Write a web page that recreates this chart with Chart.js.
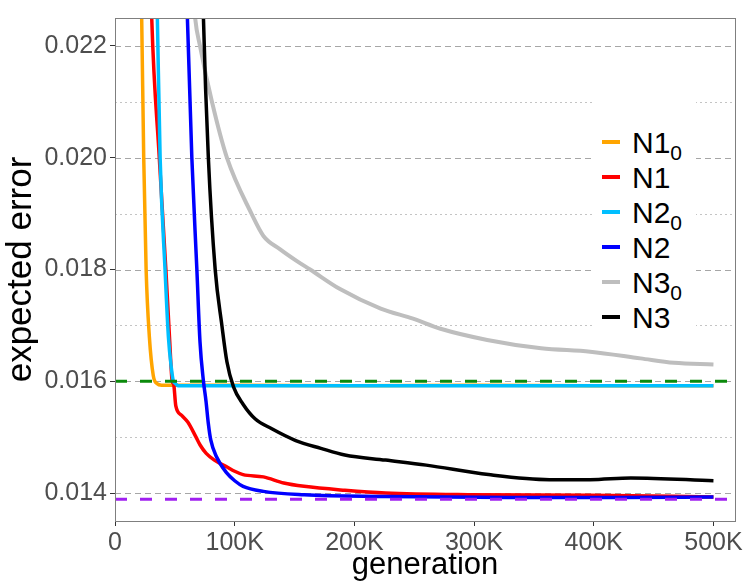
<!DOCTYPE html>
<html lang="en">
<head>
<meta charset="UTF-8">
<title>Expected error vs generation</title>
<script src="https://cdn.jsdelivr.net/npm/chart.js"></script>
<style>
  body { margin: 0; background: #fff; font-family: "Liberation Sans", Arial, sans-serif; }
  #wrap { position: relative; width: 745px; height: 586px; }
  #legend { position: absolute; left: 592px; top: 92px; width: 104px; height: 246px; background: #fff; }
  .item { position: absolute; left: 0; width: 104px; height: 35px; line-height: 35px; font-size: 30px; color: #000; }
  .key { position: absolute; left: 10px; top: 15px; width: 18px; height: 4px; }
  .lab { position: absolute; left: 40px; top: 0; white-space: nowrap; }
  .lab sub { font-size: 21px; vertical-align: -7px; line-height: 0; }
</style>
</head>
<body>
<div id="wrap">
  <canvas id="chart" width="745" height="586"></canvas>
  <div id="legend"></div>
</div>
<script>
// series (generation, expected error)
const n10Gen = [20000, 22300, 24000, 26000, 28700, 32000, 35000, 39000, 60000, 100000, 200000, 300000, 400000, 500000];
const n10Err = [0.0250, 0.02249, 0.0200, 0.0180, 0.0168, 0.0161, 0.01596, 0.01593, 0.01593, 0.01593, 0.01592, 0.01593, 0.01592, 0.01592];

const n1Gen = [28000, 30700, 37000, 42500, 45500, 47800, 49000, 50800, 55700, 60800, 67700, 71100, 76200, 83000, 93300, 100000, 107000, 124000, 141000, 158000, 192000, 226000, 295000, 397000, 500000];
const n1Err = [0.0250, 0.02249, 0.0200, 0.0180, 0.0168, 0.0160, 0.01595, 0.01556, 0.01539, 0.01527, 0.01500, 0.01486, 0.01471, 0.01459, 0.01447, 0.01439, 0.01433, 0.01429, 0.01418, 0.01412, 0.01405, 0.01400, 0.01397, 0.01396, 0.01393];

const n20Gen = [33000, 35400, 37700, 41800, 44600, 47000, 48800, 50500, 53000, 100000, 200000, 300000, 400000, 500000];
const n20Err = [0.0250, 0.02249, 0.0200, 0.0180, 0.0168, 0.01625, 0.0160, 0.01596, 0.01592, 0.01592, 0.01592, 0.01592, 0.01592, 0.01592];

const n2Gen = [58000, 60500, 64200, 68400, 71000, 73900, 76000, 78000, 80000, 84800, 93300, 100000, 107000, 124000, 158000, 226000, 329000, 420000, 500000];
const n2Err = [0.0250, 0.02249, 0.0200, 0.0180, 0.01671, 0.0160, 0.01565, 0.01524, 0.01495, 0.01465, 0.01436, 0.01422, 0.01412, 0.01403, 0.01397, 0.01394, 0.01392, 0.01392, 0.01393];

const n30Gen = [62000, 67000, 71000, 81000, 93500, 114000, 124000, 138000, 152000, 163000, 188000, 222000, 249000, 272000, 311000, 356000, 397000, 439000, 467000, 500000];
const n30Err = [0.0240, 0.02249, 0.0220, 0.0210, 0.0200, 0.0190, 0.0186, 0.01836, 0.01815, 0.0180, 0.01765, 0.0173, 0.01712, 0.01694, 0.01674, 0.01659, 0.01653, 0.01641, 0.01633, 0.0163];

const n3Gen = [71500, 73900, 78000, 83700, 89300, 93500, 99000, 107000, 117000, 131000, 151000, 172000, 192000, 226000, 260000, 312000, 363000, 397000, 431000, 500000];
const n3Err = [0.0250, 0.02249, 0.0200, 0.0180, 0.0170, 0.01635, 0.01590, 0.01559, 0.01533, 0.01515, 0.01494, 0.0148, 0.01468, 0.01459, 0.0145, 0.01433, 0.01424, 0.01424, 0.01427, 0.01422];

const seriesBase = ['N1', 'N1', 'N2', 'N2', 'N3', 'N3'];
const seriesSub = ['0', '', '0', '', '0', ''];
const refLevels = [0.016, 0.01389];

const xTicks = [0, 100000, 200000, 300000, 400000, 500000];
const yTicks = [0.014, 0.016, 0.018, 0.020, 0.022];
const yMinor = [0.015, 0.017, 0.019, 0.021];
const xMax = 518000;

const gens = [n10Gen, n1Gen, n20Gen, n2Gen, n30Gen, n3Gen];
const errs = [n10Err, n1Err, n20Err, n2Err, n30Err, n3Err];
const colors = ['#FFA500', '#FF0000', '#00BFFF', '#0000FF', '#BEBEBE', '#000000'];
const refColors = ['#0b8a0b', '#a020f0'];
const family = '"Liberation Sans", Arial, sans-serif';

const datasets = gens.map((g, i) => ({
  label: seriesBase[i] + (seriesSub[i] ? '\u2080' : ''),
  data: g.map((x, j) => ({ x: x, y: errs[i][j] })),
  borderColor: colors[i],
  borderWidth: i === 4 ? 4 : 3.5,
  pointRadius: 0,
  fill: false,
  cubicInterpolationMode: 'monotone',
  order: 10 - i
}));
refLevels.forEach((v, i) => {
  datasets.push({
    label: 'ref' + i,
    data: [{ x: 0, y: v }, { x: xMax, y: v }],
    borderColor: refColors[i],
    borderWidth: 3,
    borderDash: [12, 13],
    pointRadius: 0,
    order: 0
  });
});

const panel = {
  id: 'panel',
  beforeDatasetsDraw(chart) {
    const { ctx, chartArea: a, scales: { y } } = chart;
    ctx.save();
    ctx.lineWidth = 1;
    ctx.strokeStyle = '#c4c4c4';
    ctx.setLineDash([2, 3]);
    yMinor.forEach(v => {
      const py = Math.round(y.getPixelForValue(v)) + 0.5;
      ctx.beginPath(); ctx.moveTo(a.left, py); ctx.lineTo(a.right, py); ctx.stroke();
    });
    ctx.strokeStyle = '#a6a6a6';
    ctx.setLineDash([6, 4]);
    yTicks.forEach(v => {
      const py = Math.round(y.getPixelForValue(v)) + 0.5;
      ctx.beginPath(); ctx.moveTo(a.left, py); ctx.lineTo(a.right, py); ctx.stroke();
    });
    ctx.restore();
  },
  afterDatasetsDraw(chart) {
    const { ctx, chartArea: a } = chart;
    ctx.save();
    ctx.strokeStyle = '#7f7f7f';
    ctx.lineWidth = 1;
    ctx.strokeRect(Math.round(a.left) + 0.5, Math.round(a.top) + 0.5, Math.round(a.right - a.left), Math.round(a.bottom - a.top));
    ctx.restore();
  }
};

const chart = new Chart(document.getElementById('chart'), {
  type: 'line',
  data: { datasets: datasets },
  options: {
    responsive: false,
    animation: false,
    layout: { padding: { top: 12, right: 10, left: 0, bottom: 0 } },
    plugins: { legend: { display: false }, tooltip: { enabled: false } },
    scales: {
      x: {
        type: 'linear', min: 0, max: xMax,
        afterBuildTicks: s => { s.ticks = xTicks.map(v => ({ value: v })); },
        afterFit: s => { s.height = 65; },
        border: { display: false },
        grid: { drawOnChartArea: false, tickLength: 5, tickColor: '#333', tickWidth: 1 },
        ticks: {
          color: '#4d4d4d', font: { size: 25, family: family }, padding: 2,
          maxRotation: 0, autoSkip: false,
          callback: v => v === 0 ? '0' : (v / 1000) + 'K'
        },
        title: { display: true, text: 'generation', color: '#000', font: { size: 31, family: family }, padding: { top: 0, bottom: 2 } }
      },
      y: {
        type: 'linear', min: 0.0135, max: 0.0225,
        afterBuildTicks: s => { s.ticks = yTicks.map(v => ({ value: v })); },
        afterFit: s => { s.width = 115; },
        border: { display: false },
        grid: { drawOnChartArea: false, tickLength: 5, tickColor: '#333', tickWidth: 1 },
        ticks: {
          color: '#4d4d4d', font: { size: 25, family: family }, padding: 3,
          callback: v => v.toFixed(3)
        },
        title: { display: true, text: 'expected error', color: '#000', font: { size: 35, family: family }, padding: { top: 0, bottom: 0 } }
      }
    }
  },
  plugins: [panel]
});

// legend built from the datasets
const legend = document.getElementById('legend');
seriesBase.forEach((name, i) => {
  const item = document.createElement('div');
  item.className = 'item';
  item.style.top = (32.5 + 35 * i) + 'px';
  const key = document.createElement('div');
  key.className = 'key';
  key.style.background = chart.data.datasets[i].borderColor;
  const lab = document.createElement('div');
  lab.className = 'lab';
  lab.textContent = name;
  if (seriesSub[i]) {
    const sub = document.createElement('sub');
    sub.textContent = seriesSub[i];
    lab.appendChild(sub);
  }
  item.appendChild(key);
  item.appendChild(lab);
  legend.appendChild(item);
});
</script>
</body>
</html>
